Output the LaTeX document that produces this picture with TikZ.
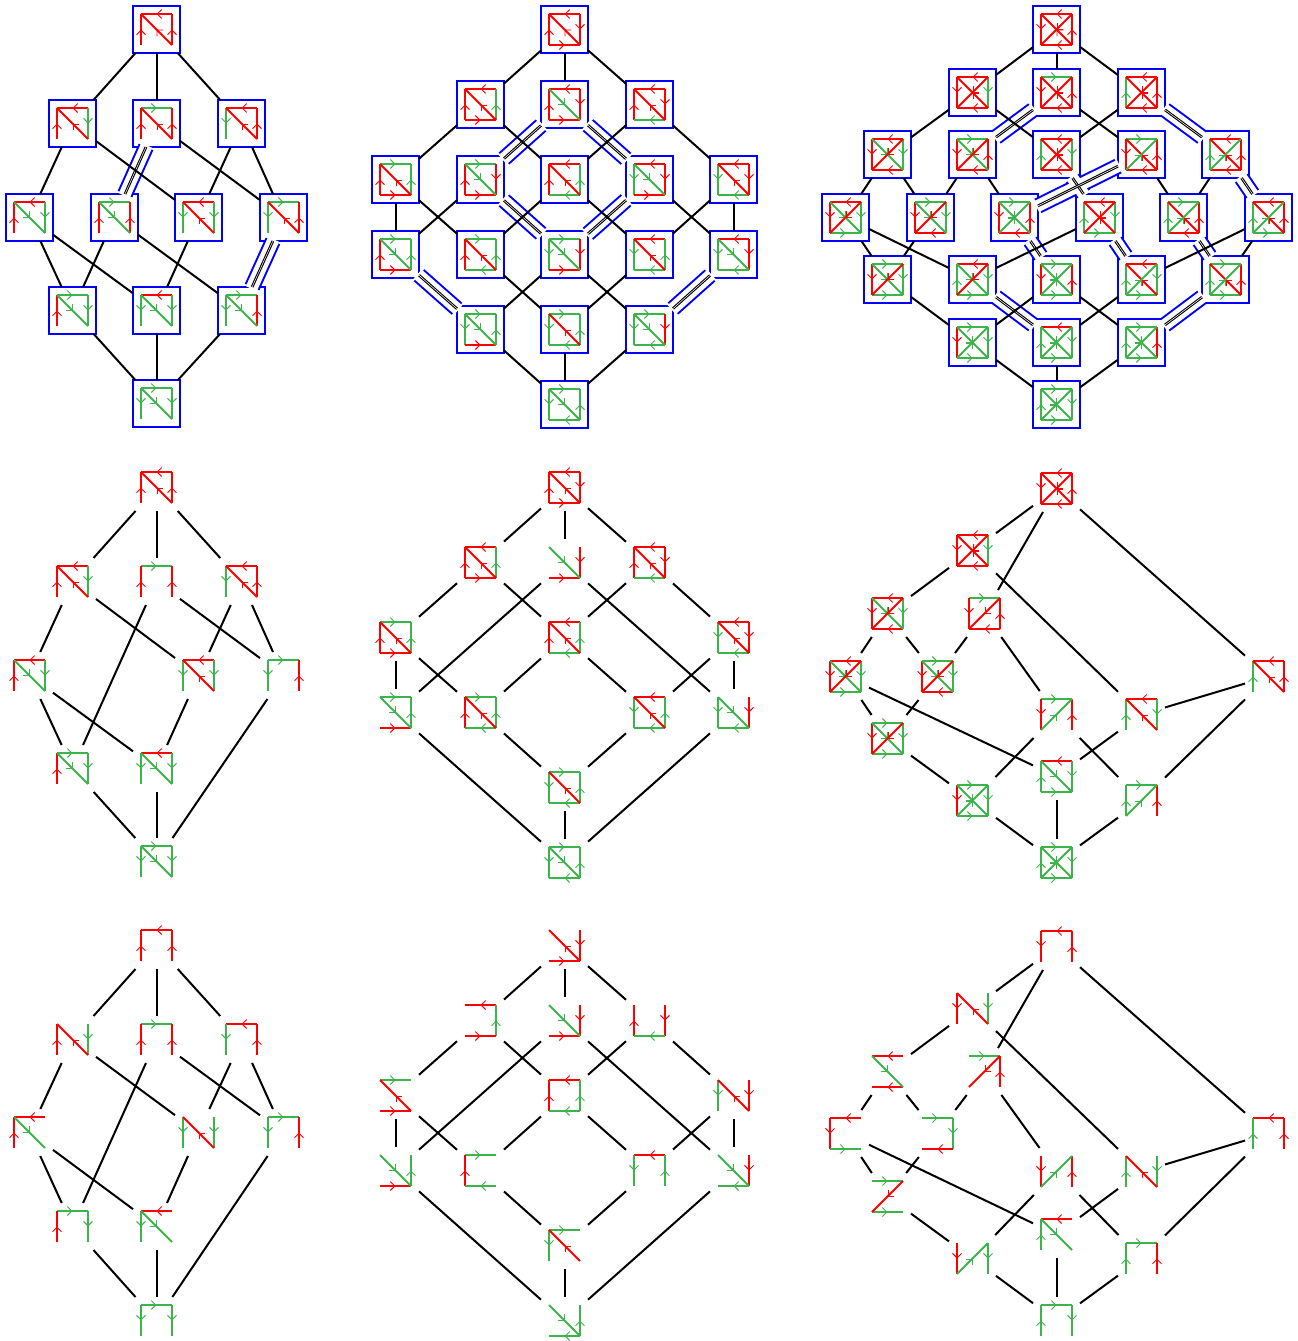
\documentclass[tikz,border=0pt]{standalone}
\usepackage{tikz}
\usetikzlibrary{arrows.meta,decorations.markings}
\definecolor{lgreen}{RGB}{60,180,75}
\tikzset{
  boxed/.style = {draw=blue, line width=2pt, minimum size=47pt, inner sep=0pt, outer sep=0pt},
  bare/.style  = {minimum size=47pt, inner sep=0pt, outer sep=0pt},
  barb/.style  = {line width=.9pt, line cap=butt},
  rd/.style    = {color=red, line width=2pt, line cap=square, postaction={decorate, decoration={markings,
      mark=at position .5 with {\arrow[barb]{Straight Barb[length=4.5pt,width=9pt]}}}}},
  gn/.style    = {color=lgreen, line width=2pt, line cap=square, postaction={decorate, decoration={markings,
      mark=at position .5 with {\arrowreversed[barb]{Straight Barb[length=4.5pt,width=9pt]}}}}},
  link/.style  = {black, line width=2pt},
  duallink/.style = {black, line width=1.1pt, double=white, double distance=.5pt},
  tubeout/.style  = {blue, line width=16pt},
  tubein/.style   = {white, line width=12pt, shorten <=-1.8pt, shorten >=-1.8pt},
}
% corners: a b on top, c d below; edges run the way their red form points
\def\fT{b}\def\tT{a}\def\fD{d}\def\tD{a}\def\fA{b}\def\tA{c}
\newcommand\latcell[5]{%
  \pgfmathsetmacro\cx{floor(#3)+.5}\pgfmathsetmacro\cy{floor(#4)+.5}
  \node[#1] (#2) at (\cx,\cy) {};
  \path (#2) +(-15.5,-15.5) coordinate (a) +(15.5,-15.5) coordinate (b)
             +(-15.5,15.5) coordinate (c) +(15.5,15.5) coordinate (d);
  \foreach \e/\c in {#5} {
    \edef\p{\csname f\e\endcsname}\edef\q{\csname t\e\endcsname}
    \draw[\c] (\p) -- (\q);
  }
}
\begin{document}
\begin{tikzpicture}[x=1pt,y=-1pt]
  \useasboundingbox (0,0) rectangle (1298,1341);

  % Top left lattice
  \def\fL{c}\def\tL{a}\def\fR{d}\def\tR{b}
  \latcell{boxed}{a1}{156.7}{29.7}{T/rd,L/rd,R/rd,D/rd}
  \latcell{boxed}{a21}{72}{123}{T/rd,L/rd,R/gn,D/rd}
  \latcell{boxed}{a22}{156.7}{123}{T/gn,L/rd,R/rd,D/rd}
  \latcell{boxed}{a23}{241}{123}{T/rd,L/gn,R/rd,D/rd}
  \latcell{boxed}{a31}{29.7}{217}{T/rd,L/rd,R/gn,D/gn}
  \latcell{boxed}{a32}{114.3}{217}{T/gn,L/rd,R/rd,D/gn}
  \latcell{boxed}{a33}{198.7}{217}{T/rd,L/gn,R/gn,D/rd}
  \latcell{boxed}{a34}{283.3}{217}{T/gn,L/gn,R/rd,D/rd}
  \latcell{boxed}{a41}{72}{310.3}{T/gn,L/rd,R/gn,D/gn}
  \latcell{boxed}{a42}{156.7}{310.3}{T/rd,L/gn,R/gn,D/gn}
  \latcell{boxed}{a43}{241}{310.3}{T/gn,L/gn,R/rd,D/gn}
  \latcell{boxed}{a5}{156.7}{403.7}{T/gn,L/gn,R/gn,D/gn}

  % Top middle lattice
  \def\fL{c}\def\tL{a}\def\fR{b}\def\tR{d}\def\fB{c}\def\tB{d}
  \latcell{boxed}{b1}{564.3}{29.5}{T/rd,L/rd,R/rd,B/rd,D/rd}
  \latcell{boxed}{b21}{480}{104.3}{T/rd,L/rd,R/gn,B/rd,D/rd}
  \latcell{boxed}{b22}{564.3}{104.3}{T/rd,L/rd,R/rd,B/rd,D/gn}
  \latcell{boxed}{b23}{649}{104.3}{T/rd,L/rd,R/rd,B/gn,D/rd}
  \latcell{boxed}{b31}{395.5}{179.3}{T/gn,L/rd,R/gn,B/rd,D/rd}
  \latcell{boxed}{b32}{480}{179.3}{T/gn,L/rd,R/rd,B/rd,D/gn}
  \latcell{boxed}{b33}{564.3}{179.3}{T/rd,L/rd,R/gn,B/gn,D/rd}
  \latcell{boxed}{b34}{649}{179.3}{T/rd,L/gn,R/rd,B/rd,D/gn}
  \latcell{boxed}{b35}{733.5}{179.3}{T/rd,L/gn,R/rd,B/gn,D/rd}
  \latcell{boxed}{b41}{395.5}{254.3}{T/gn,L/rd,R/gn,B/rd,D/gn}
  \latcell{boxed}{b42}{480}{254.3}{T/gn,L/rd,R/gn,B/gn,D/rd}
  \latcell{boxed}{b43}{564.3}{254.3}{T/gn,L/gn,R/rd,B/rd,D/gn}
  \latcell{boxed}{b44}{649}{254.3}{T/rd,L/gn,R/gn,B/gn,D/rd}
  \latcell{boxed}{b45}{733.5}{254.3}{T/rd,L/gn,R/rd,B/gn,D/gn}
  \latcell{boxed}{b51}{480}{329.3}{T/gn,L/gn,R/gn,B/rd,D/gn}
  \latcell{boxed}{b52}{564.3}{329.3}{T/gn,L/gn,R/gn,B/gn,D/rd}
  \latcell{boxed}{b53}{649}{329.3}{T/gn,L/gn,R/rd,B/gn,D/gn}
  \latcell{boxed}{b6}{564.3}{404.3}{T/gn,L/gn,R/gn,B/gn,D/gn}

  % Top right lattice
  \def\fL{a}\def\tL{c}\def\fR{d}\def\tR{b}\def\fB{d}\def\tB{c}
  \latcell{boxed}{c1}{1056.7}{29.5}{T/rd,L/rd,R/rd,B/rd,D/rd,A/rd}
  \latcell{boxed}{c21}{972}{92.3}{T/rd,L/rd,R/gn,B/rd,D/rd,A/rd}
  \latcell{boxed}{c22}{1056.7}{92.3}{T/gn,L/rd,R/rd,B/rd,D/rd,A/rd}
  \latcell{boxed}{c23}{1141}{92.3}{T/rd,L/gn,R/rd,B/rd,D/rd,A/rd}
  \latcell{boxed}{c31}{887.7}{154.7}{T/rd,L/rd,R/gn,B/rd,D/gn,A/rd}
  \latcell{boxed}{c32}{972}{154.7}{T/gn,L/rd,R/rd,B/rd,D/gn,A/rd}
  \latcell{boxed}{c33}{1056.7}{154.7}{T/rd,L/gn,R/gn,B/rd,D/rd,A/rd}
  \latcell{boxed}{c34}{1141}{154.7}{T/gn,L/rd,R/rd,B/rd,D/rd,A/gn}
  \latcell{boxed}{c35}{1225.7}{154.7}{T/rd,L/gn,R/rd,B/rd,D/rd,A/gn}
  \latcell{boxed}{c41}{845}{217}{T/rd,L/rd,R/gn,B/gn,D/gn,A/rd}
  \latcell{boxed}{c42}{930}{217}{T/gn,L/rd,R/gn,B/rd,D/gn,A/rd}
  \latcell{boxed}{c43}{1014.3}{217}{T/gn,L/rd,R/rd,B/rd,D/gn,A/gn}
  \latcell{boxed}{c44}{1099}{217}{T/rd,L/gn,R/gn,B/gn,D/rd,A/rd}
  \latcell{boxed}{c45}{1183.3}{217}{T/gn,L/gn,R/rd,B/rd,D/rd,A/gn}
  \latcell{boxed}{c46}{1268}{217}{T/rd,L/gn,R/rd,B/gn,D/rd,A/gn}
  \latcell{boxed}{c51}{887.7}{279.5}{T/gn,L/rd,R/gn,B/gn,D/gn,A/rd}
  \latcell{boxed}{c52}{972}{279.5}{T/rd,L/gn,R/gn,B/gn,D/gn,A/rd}
  \latcell{boxed}{c53}{1056.7}{279.5}{T/gn,L/rd,R/rd,B/gn,D/gn,A/gn}
  \latcell{boxed}{c54}{1141}{279.5}{T/rd,L/gn,R/gn,B/gn,D/rd,A/gn}
  \latcell{boxed}{c55}{1225.7}{279.5}{T/gn,L/gn,R/rd,B/gn,D/rd,A/gn}
  \latcell{boxed}{c61}{972}{342}{T/gn,L/rd,R/gn,B/gn,D/gn,A/gn}
  \latcell{boxed}{c62}{1056.7}{342}{T/rd,L/gn,R/gn,B/gn,D/gn,A/gn}
  \latcell{boxed}{c63}{1141}{342}{T/gn,L/gn,R/rd,B/gn,D/gn,A/gn}
  \latcell{boxed}{c7}{1056.7}{404.3}{T/gn,L/gn,R/gn,B/gn,D/gn,A/gn}

  % Middle left lattice
  \def\fL{c}\def\tL{a}\def\fR{d}\def\tR{b}
  \latcell{bare}{d1}{156.7}{487.7}{T/rd,L/rd,R/rd,D/rd}
  \latcell{bare}{d21}{72}{581}{T/rd,L/rd,R/gn,D/rd}
  \latcell{bare}{d22}{156.7}{581}{T/gn,L/rd,R/rd}
  \latcell{bare}{d23}{241}{581}{T/rd,L/gn,R/rd,D/rd}
  \latcell{bare}{d31}{29.7}{675}{T/rd,L/rd,R/gn,D/gn}
  \latcell{bare}{d33}{198.7}{675}{T/rd,L/gn,R/gn,D/rd}
  \latcell{bare}{d34}{283.3}{675}{T/gn,L/gn,R/rd}
  \latcell{bare}{d41}{72}{768.3}{T/gn,L/rd,R/gn,D/gn}
  \latcell{bare}{d42}{156.7}{768.3}{T/rd,L/gn,R/gn,D/gn}
  \latcell{bare}{d5}{156.7}{861.7}{T/gn,L/gn,R/gn,D/gn}

  % Middle centre lattice
  \def\fL{c}\def\tL{a}\def\fR{b}\def\tR{d}\def\fB{c}\def\tB{d}
  \latcell{bare}{e1}{564.3}{487.7}{T/rd,L/rd,R/rd,B/rd,D/rd}
  \latcell{bare}{e21}{480}{562.5}{T/rd,L/rd,R/gn,B/rd,D/rd}
  \latcell{bare}{e22}{564.3}{562.5}{R/rd,B/rd,D/gn}
  \latcell{bare}{e23}{649}{562.5}{T/rd,L/rd,R/rd,B/gn,D/rd}
  \latcell{bare}{e31}{395.5}{637}{T/gn,L/rd,R/gn,B/rd,D/rd}
  \latcell{bare}{e33}{564.3}{637}{T/rd,L/rd,R/gn,B/gn,D/rd}
  \latcell{bare}{e35}{733.5}{637}{T/rd,L/gn,R/rd,B/gn,D/rd}
  \latcell{bare}{e41}{395.5}{712}{T/gn,R/gn,B/rd,D/gn}
  \latcell{bare}{e42}{480}{712}{T/gn,L/rd,R/gn,B/gn,D/rd}
  \latcell{bare}{e44}{649}{712}{T/rd,L/gn,R/gn,B/gn,D/rd}
  \latcell{bare}{e45}{733.5}{712}{L/gn,R/rd,B/gn,D/gn}
  \latcell{bare}{e5}{564.3}{787}{T/gn,L/gn,R/gn,B/gn,D/rd}
  \latcell{bare}{e6}{564.3}{862}{T/gn,L/gn,R/gn,B/gn,D/gn}

  % Middle right lattice
  \def\fL{a}\def\tL{c}\def\fR{d}\def\tR{b}\def\fB{d}\def\tB{c}
  \latcell{bare}{f1}{1056.7}{488.3}{T/rd,L/rd,R/rd,B/rd,D/rd,A/rd}
  \latcell{bare}{f2}{972}{550.7}{T/rd,L/rd,R/gn,B/rd,D/rd,A/rd}
  \latcell{bare}{f31}{887.7}{613.3}{T/rd,L/rd,R/gn,B/rd,D/gn,A/rd}
  \latcell{bare}{f32}{984}{613.3}{T/gn,L/rd,R/rd,B/rd,A/rd}
  \latcell{bare}{f41}{845}{676}{T/rd,L/rd,R/gn,B/gn,D/gn,A/rd}
  \latcell{bare}{f42}{937}{676}{T/gn,L/rd,R/gn,B/rd,D/gn,A/rd}
  \latcell{bare}{f43}{1268}{676}{T/rd,L/gn,R/rd,D/rd}
  \latcell{bare}{f51}{887.7}{738.3}{T/gn,L/rd,R/gn,B/gn,D/gn,A/rd}
  \latcell{bare}{f52}{1056.7}{714}{T/gn,L/rd,R/rd,A/gn}
  \latcell{bare}{f53}{1141}{714}{T/rd,L/gn,R/gn,D/rd}
  \latcell{bare}{f61}{972}{800.7}{T/gn,L/rd,R/gn,B/gn,D/gn,A/gn}
  \latcell{bare}{f62}{1056.7}{776.7}{T/rd,L/gn,R/gn,B/gn,D/gn}
  \latcell{bare}{f63}{1141}{800.7}{T/gn,L/gn,R/rd,A/gn}
  \latcell{bare}{f7}{1056.7}{862.7}{T/gn,L/gn,R/gn,B/gn,D/gn,A/gn}

  % Bottom left lattice
  \def\fL{c}\def\tL{a}\def\fR{d}\def\tR{b}
  \latcell{bare}{g1}{156.7}{945}{T/rd,L/rd,R/rd}
  \latcell{bare}{g21}{72}{1039}{L/rd,R/gn,D/rd}
  \latcell{bare}{g22}{156.7}{1039}{T/gn,L/rd,R/rd}
  \latcell{bare}{g23}{241}{1039}{T/rd,L/gn,R/rd}
  \latcell{bare}{g31}{29.7}{1132.7}{T/rd,L/rd,D/gn}
  \latcell{bare}{g33}{198.7}{1132.7}{L/gn,R/gn,D/rd}
  \latcell{bare}{g34}{283.3}{1132.7}{T/gn,L/gn,R/rd}
  \latcell{bare}{g41}{72}{1226}{T/gn,L/rd,R/gn}
  \latcell{bare}{g42}{156.7}{1226}{T/rd,L/gn,D/gn}
  \latcell{bare}{g5}{156.7}{1320}{T/gn,L/gn,R/gn}

  % Bottom centre lattice
  \def\fL{c}\def\tL{a}\def\fR{b}\def\tR{d}\def\fB{c}\def\tB{d}
  \latcell{bare}{h1}{564.3}{945}{R/rd,B/rd,D/rd}
  \latcell{bare}{h21}{480}{1020}{T/rd,R/gn,B/rd}
  \latcell{bare}{h22}{564.3}{1020}{R/rd,B/rd,D/gn}
  \latcell{bare}{h23}{649}{1020}{L/rd,R/rd,B/gn}
  \latcell{bare}{h31}{395.5}{1095}{T/gn,B/rd,D/rd}
  \latcell{bare}{h33}{564.3}{1095}{T/rd,L/rd,R/gn,B/gn}
  \latcell{bare}{h35}{733.5}{1095}{L/gn,R/rd,D/rd}
  \latcell{bare}{h41}{395.5}{1170}{R/gn,B/rd,D/gn}
  \latcell{bare}{h42}{480}{1170}{T/gn,L/rd,B/gn}
  \latcell{bare}{h44}{649}{1170}{T/rd,L/gn,R/gn}
  \latcell{bare}{h45}{733.5}{1170}{R/rd,B/gn,D/gn}
  \latcell{bare}{h5}{564.3}{1245}{T/gn,L/gn,D/rd}
  \latcell{bare}{h6}{564.3}{1320}{R/gn,B/gn,D/gn}

  % Bottom right lattice
  \def\fL{a}\def\tL{c}\def\fR{d}\def\tR{b}\def\fB{d}\def\tB{c}
  \latcell{bare}{i1}{1056.7}{946}{T/rd,L/rd,R/rd}
  \latcell{bare}{i2}{972}{1008.3}{L/rd,R/gn,D/rd}
  \latcell{bare}{i31}{887.7}{1071}{T/rd,B/rd,D/gn}
  \latcell{bare}{i32}{984}{1071}{T/gn,R/rd,A/rd}
  \latcell{bare}{i41}{845}{1133.5}{T/rd,L/rd,B/gn}
  \latcell{bare}{i42}{937}{1133.5}{T/gn,R/gn,B/rd}
  \latcell{bare}{i43}{1268}{1133.5}{T/rd,L/gn,R/rd}
  \latcell{bare}{i51}{887.7}{1196}{T/gn,B/gn,A/rd}
  \latcell{bare}{i52}{1056.7}{1171.5}{L/rd,R/rd,A/gn}
  \latcell{bare}{i53}{1141}{1171.5}{L/gn,R/gn,D/rd}
  \latcell{bare}{i61}{972}{1258.2}{L/rd,R/gn,A/gn}
  \latcell{bare}{i62}{1056.7}{1234.2}{T/rd,L/gn,D/gn}
  \latcell{bare}{i63}{1141}{1258.2}{T/gn,L/gn,R/rd}
  \latcell{bare}{i7}{1056.7}{1320}{T/gn,L/gn,R/gn}

  % Tubes round the doubled links
  \foreach \p/\q in {a22/a32,a34/a43,
      b22/b32,b22/b34,b32/b43,b34/b43,b41/b51,b45/b53,
      c22/c32,c23/c35,c33/c44,c34/c43,c35/c46,c43/c53,c44/c54,c45/c55,c52/c62,c55/c63} {
    \draw[tubeout] (\p) -- (\q);
  }
  \foreach \p/\q in {a22/a32,a34/a43,
      b22/b32,b22/b34,b32/b43,b34/b43,b41/b51,b45/b53,
      c22/c32,c23/c35,c33/c44,c34/c43,c35/c46,c43/c53,c44/c54,c45/c55,c52/c62,c55/c63} {
    \draw[tubein] (\p) -- (\q);
  }
  \foreach \p/\q in {a22/a32,a34/a43,
      b22/b32,b22/b34,b32/b43,b34/b43,b41/b51,b45/b53,
      c22/c32,c23/c35,c33/c44,c34/c43,c35/c46,c43/c53,c44/c54,c45/c55,c52/c62,c55/c63} {
    \draw[duallink] (\p) -- (\q);
  }

  % Plain links
  \foreach \p/\q in {a1/a21,a1/a22,a1/a23,a21/a31,a21/a33,a22/a34,a23/a33,a23/a34,
      a31/a41,a31/a42,a32/a41,a32/a43,a33/a42,a41/a5,a42/a5,a43/a5} {
    \draw[link] (\p) -- (\q);
  }
  \foreach \p/\q in {b1/b21,b1/b22,b1/b23,b21/b31,b21/b33,b23/b33,b23/b35,
      b31/b41,b31/b42,b32/b41,b33/b42,b33/b44,b35/b44,b34/b45,b35/b45,
      b42/b52,b43/b51,b43/b53,b44/b52,b51/b6,b52/b6,b53/b6} {
    \draw[link] (\p) -- (\q);
  }
  \foreach \p/\q in {c1/c21,c1/c22,c1/c23,c21/c31,c21/c33,c22/c34,c23/c33,
      c31/c41,c31/c42,c32/c42,c32/c43,c34/c45,c35/c45,
      c41/c51,c41/c52,c42/c51,c44/c52,c46/c54,c46/c55,
      c51/c61,c53/c61,c53/c63,c54/c62,c61/c7,c62/c7,c63/c7} {
    \draw[link] (\p) -- (\q);
  }
  \foreach \s in {d,g} {
    \foreach \p/\q in {1/21,1/22,1/23,21/31,21/33,22/41,22/34,23/33,23/34,
        31/41,31/42,33/42,34/5,41/5,42/5} {
      \draw[link] (\s\p) -- (\s\q);
    }
  }
  \foreach \s in {e,h} {
    \foreach \p/\q in {1/21,1/22,1/23,21/31,21/33,22/41,22/45,23/33,23/35,
        31/41,31/42,33/42,33/44,35/44,35/45,41/6,42/5,44/5,45/6,5/6} {
      \draw[link] (\s\p) -- (\s\q);
    }
  }
  \foreach \s in {f,i} {
    \foreach \p/\q in {1/2,1/32,1/43,2/31,2/53,31/41,31/42,32/42,32/52,
        41/51,41/62,42/51,51/61,52/61,52/63,53/43,53/62,43/63,61/7,62/7,63/7} {
      \draw[link] (\s\p) -- (\s\q);
    }
  }
\end{tikzpicture}
\end{document}
